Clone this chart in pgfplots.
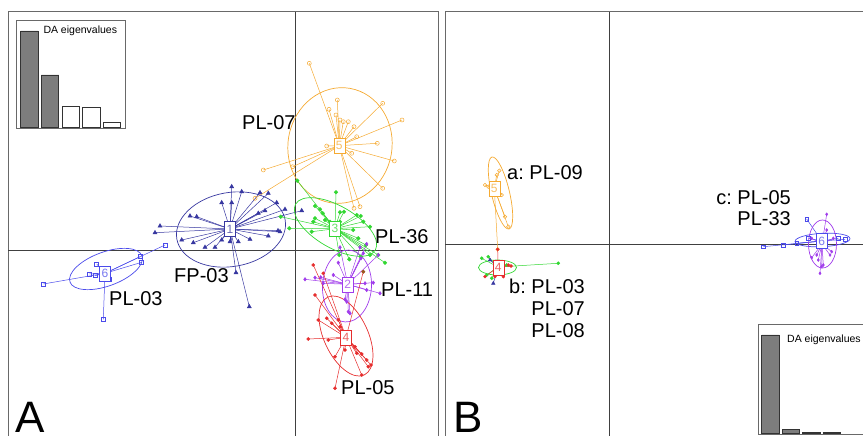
\documentclass[border=0pt]{standalone}
\usepackage{pgfplots}
\pgfplotsset{compat=1.18}
\usepackage{pgfplotstable}
\usepackage{fontspec}
\setmainfont{Liberation Sans}
\frenchspacing
\definecolor{cnavy}{RGB}{55,55,160}
\definecolor{cblue}{RGB}{75,75,235}
\definecolor{corange}{RGB}{245,170,50}
\definecolor{cgreen}{RGB}{50,215,50}
\definecolor{cpurple}{RGB}{160,60,235}
\definecolor{cred}{RGB}{230,45,45}
\definecolor{cbrown}{RGB}{150,90,30}
\definecolor{cframe}{RGB}{105,105,105}
\definecolor{cbar}{RGB}{125,125,125}

% ---- Panel A clusters (pixel coordinates, y downward) ----
\pgfplotstableread{
x y
231.7 186.7
241.7 191.7
221.7 202.7
231.7 202.7
268.3 193.3
260 192.7
276.7 202.7
285 209.3
265 210.7
258.3 213.3
301.7 210.7
280 231.7
268.3 236
250 239.3
238.3 241.7
230 241.7
221.7 240
215 247.3
205 247.3
193.3 242.7
181.7 240
160 226
155 232.7
196.7 216.7
190 216
236 272.7
249.3 306.7
278 230.7
}\cAone
\pgfplotstableread{
x y
43.3 284
103.3 319.3
165 245
141.7 262.3
140 256.7
96.7 264
89.3 274
95 275.7
109 279
}\cAsix
\pgfplotstableread{
x y
309.3 63.3
337.3 100
329 109.3
336 115
340 120
343.3 121.7
348.3 121.7
354 126.7
356.7 136.7
382.7 103.3
402 120
377.3 143.3
326.7 146
351.7 153.3
394.3 161
292.7 166.7
382.7 188.3
354 208.3
360 206.7
255 198.3
263.3 170
}\cAfive
\pgfplotstableread{
x y
297.3 180.7
336 192.3
315 206
320 209.3
322.7 213.3
325 220
315 218.3
340 212.3
344 211.7
356.7 215
360.7 216
363.3 221.7
370 226.7
280.7 216.7
289.3 228.3
311.7 231.7
330 221.7
340 221.7
353.3 230
358.3 238.3
366 245
370 255
378.3 255
339.3 255
349.3 259.3
360.7 256.7
385 262.7
313.3 221.7
}\cAthree
\pgfplotstableread{
x y
338.3 262.7
340 247.3
360 247.3
366.7 244
378.3 255
363.3 253.3
361 258.3
305 279.3
315 277.7
320.7 277.3
323.3 283.3
333.3 275
373.3 282.7
366.7 290
380 293.3
365 283.3
345 299.3
346.7 301.7
348.3 311.7
350 313.3
}\cAtwo
\pgfplotstableread{
x y
313.3 265
323.3 273.3
315 295
318.3 320
326.7 318.3
331.7 323.3
338.3 320
340 326.7
308.3 339
328.3 340
335 356.7
345 350
355 346.7
356.7 353.3
361.7 354
366.7 360
371 365
368.3 366.7
361.7 375
335 388.3
363.3 271.7
}\cAfour
% ---- Panel B clusters ----
\pgfplotstableread{
x y
496.7 175
499.3 170.7
485 185
488.3 186.7
501.7 195
505 216.7
508.3 226.7
497.7 249.3
}\cBfive
\pgfplotstableread{
x y
481.7 258.3
488.3 256.7
506.7 265
491.7 278.3
486.7 275
558.3 263.3
}\cBgreen
\pgfplotstableread{
x y
508.3 265
511 266
485 276.7
495 276.7
497.7 249.3
503.3 276.7
}\cBred
\pgfplotstableread{
x y
493.3 283.3
490 260
}\cBnavy
\pgfplotstableread{
x y
763.3 246.7
783.3 245
796.7 243.3
806.7 219
808.3 238.3
838.3 238.3
845 239.3
}\cBblue
\pgfplotstableread{
x y
826.7 214.3
826.7 230
833.3 238.3
816.7 255
811.7 257.7
818.3 260
821.7 266.7
823.3 265
820 273.3
830 255
831.7 251.7
811.7 238.3
}\cBpurple

% star: #1 table, #2 colour, #3 cx, #4 cy, #5 mark options
\newcommand{\starplot}[5]{%
  \addplot[#2, line width=0.5pt, quiver={u=\thisrow{x}-#3, v=\thisrow{y}-#4}] table[x expr=#3, y expr=#4] {#1};
  \addplot[#2, only marks, #5] table {#1};
}
% centre box: #1 colour, #2 x, #3 y, #4 label
\newcommand{\cbox}[4]{%
  \addplot[only marks, mark=text, text mark={#4}, text mark as node=true,
    text mark style={draw=#1, fill=white, text=#1!75, font=\fontsize{12}{12}\selectfont,
      inner sep=0pt, minimum width=11pt, minimum height=15pt, line width=0.6pt}]
    coordinates {(#2,#3)};
}
\newcommand{\ellip}[6]{% colour, cx, cy, rx, ry, angle
  \draw[#1, line width=0.7pt, rotate around={#6:(axis cs:#2,#3)}] (axis cs:#2,#3) ellipse [x radius=#4pt, y radius=#5pt];
}

\begin{document}
\begin{tikzpicture}
\useasboundingbox (0,0) rectangle (863pt,436pt);
\clip (0,0) rectangle (863pt,436pt);
\begin{axis}[at={(0,0)}, anchor=south west, width=863pt, height=436pt, scale only axis,
  xmin=0, xmax=863, ymin=0, ymax=436, y dir=reverse, hide axis, clip=false]
% frames and crosshairs
\addplot[cframe, line width=1pt] coordinates {(8,440) (8,12) (438,12) (438,440)};
\addplot[black!75, line width=0.8pt] coordinates {(295,12) (295,440)};
\addplot[black!75, line width=0.8pt] coordinates {(8,250) (438,250)};
\addplot[cframe, line width=1pt] coordinates {(445,440) (445,12) (870,12)};
\addplot[black!75, line width=0.8pt] coordinates {(609,12) (609,440)};
\addplot[black!75, line width=0.8pt] coordinates {(445,244) (870,244)};

% ---- Panel A ----
\starplot{\cAfive}{corange}{339.3}{145.7}{mark=o, mark size=2pt, mark options={line width=0.5pt}}
\ellip{corange}{340}{145.5}{58}{52}{80}
\starplot{\cAone}{cnavy}{230}{229}{mark=triangle*, mark size=2.4pt}
\ellip{cnavy}{231}{229.5}{55}{37}{10}
\starplot{\cAsix}{cblue}{105}{273.3}{mark=square, mark size=2pt, mark options={line width=0.5pt}}
\ellip{cblue}{106}{269}{38.3}{17}{20}
\starplot{\cAthree}{cgreen}{335}{228.7}{mark=*, mark size=1.9pt}
\ellip{cgreen}{335.5}{227}{46}{21}{-30}
\starplot{\cAtwo}{cpurple}{347.7}{284.3}{mark=diamond*, mark size=1.8pt}
\ellip{cpurple}{347}{286}{24.5}{36}{-3}
\starplot{\cAfour}{cred}{346}{337.3}{mark=*, mark size=1.6pt}
\ellip{cred}{346}{336}{43}{22}{-65}
\addplot[only marks, mark=*, mark size=1.7pt, cbrown] coordinates {(363.3,271.7)};
\cbox{cnavy}{230}{229}{1}
\cbox{cblue}{105}{273.3}{6}
\cbox{corange}{339.3}{145.7}{5}
\cbox{cgreen}{335}{228.7}{3}
\cbox{cpurple}{347.7}{284.3}{2}
\cbox{cred}{346}{337.3}{4}

% ---- Panel B ----
\starplot{\cBfive}{corange}{494.3}{188.3}{mark=o, mark size=1.8pt, mark options={line width=0.5pt}}
\ellip{corange}{500.5}{193}{37}{9}{-76.7}
\starplot{\cBgreen}{cgreen}{498}{267}{mark=*, mark size=1.6pt}
\ellip{cgreen}{497.5}{267.5}{19}{7.5}{0}
\starplot{\cBred}{cred}{498}{267}{mark=*, mark size=1.5pt}
\starplot{\cBnavy}{cnavy}{498}{267}{mark=triangle*, mark size=2pt}
\starplot{\cBblue}{cblue}{821.7}{241}{mark=square, mark size=1.8pt, mark options={line width=0.5pt}}
\ellip{cblue}{822.5}{240}{27.5}{6.7}{3}
\starplot{\cBpurple}{cpurple}{822}{244}{mark=diamond*, mark size=1.5pt}
\ellip{cpurple}{822.5}{244}{14}{24}{0}
\cbox{corange}{494.3}{188.3}{5}
\cbox{cred}{498.3}{267.3}{4}
\cbox{cblue}{821.7}{241}{6}

% ---- labels ----
\begin{scope}[every node/.style={inner sep=0pt, font=\fontsize{20}{20}\selectfont}]
\node[anchor=west] at (axis cs:242,122.7) {PL-07};
\node[anchor=west] at (axis cs:375,237) {PL-36};
\node[anchor=west] at (axis cs:174,276) {FP-03};
\node[anchor=west] at (axis cs:109,299) {PL-03};
\node[anchor=west] at (axis cs:381,290) {PL-11};
\node[anchor=west] at (axis cs:341,387.7) {PL-05};
\node[anchor=west] at (axis cs:507,172.3) {a: PL-09};
\node[anchor=east] at (axis cs:585,286) {b: PL-03};
\node[anchor=east] at (axis cs:585,308.3) {PL-07};
\node[anchor=east] at (axis cs:585,331) {PL-08};
\node[anchor=east] at (axis cs:791,197.3) {c: PL-05};
\node[anchor=east] at (axis cs:791,219) {PL-33};
\end{scope}
\node[inner sep=0pt, anchor=base west, font=\fontsize{44}{44}\selectfont] at (axis cs:15,432) {A};
\node[inner sep=0pt, anchor=base west, font=\fontsize{44}{44}\selectfont] at (axis cs:453,432) {B};
\node[inner sep=0pt, anchor=west, font=\fontsize{10.5}{10.5}\selectfont] at (axis cs:43.3,30.7) {DA eigenvalues};
\node[inner sep=0pt, anchor=west, font=\fontsize{10.5}{10.5}\selectfont] at (axis cs:787,340) {DA eigenvalues};
\end{axis}

% ---- inset A ----
\begin{axis}[at={(16pt,307.7pt)}, anchor=south west, width=109.7pt, height=107.6pt, scale only axis,
  xmin=0.345, xmax=5.67, ymin=-0.6, ymax=107, ticks=none, axis line style={cframe, line width=0.8pt},
  ybar, bar width=17.5pt]
\addplot[bar shift=0pt, fill=cbar, draw=black!80, line width=0.7pt] coordinates {(1,96.7) (2,52.7)};
\addplot[bar shift=0pt, fill=white, draw=black!80, line width=0.7pt] coordinates {(3,21.7) (4,20) (5,5.4)};
\end{axis}

% ---- inset B ----
\begin{axis}[at={(758pt,2pt)}, anchor=south west, width=120pt, height=109.5pt, scale only axis,
  xmin=0.387, xmax=6.27, ymin=-0.7, ymax=108.8, ticks=none, axis line style={cframe, line width=0.8pt},
  ybar, bar width=17.5pt]
\addplot[bar shift=0pt, fill=cbar, draw=black!80, line width=0.7pt] coordinates {(1,98.3) (2,4) (3,1.2) (4,1)};
\end{axis}
\end{tikzpicture}
\end{document}
